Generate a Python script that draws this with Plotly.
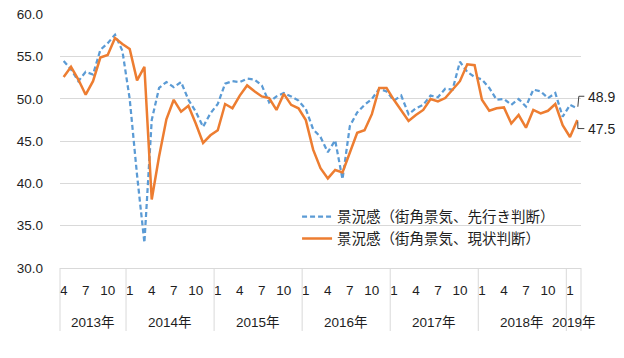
import plotly.graph_objects as go

# Categories: monthly, 2013-04 .. 2019-02
year_month = ([(2013, m) for m in range(4, 13)]
              + [(y, m) for y in range(2014, 2019) for m in range(1, 13)]
              + [(2019, 1), (2019, 2)])
years = [ym[0] for ym in year_month]
months = [ym[1] for ym in year_month]

# 景況感（街角景気、先行き判断）
outlook = [54.5, 53.5, 52.1, 53.2, 52.9, 55.8, 56.6, 57.6, 55.7,
           50.0, 41.0, 33.0, 47.5, 51.3, 52.0, 51.4, 52.0, 49.9, 48.5, 46.7, 48.3, 49.4, 51.8,
           52.1, 52.0, 52.4, 52.3, 51.6, 49.6, 50.3, 50.7, 50.3, 49.8, 48.8, 46.4, 45.5,
           43.7, 45.1, 40.5, 46.8, 48.4, 49.3, 50.0, 51.2, 50.9, 49.8, 50.4, 48.2,
           48.9, 49.3, 50.4, 50.2, 51.2, 51.1, 54.4, 53.2, 52.6, 52.3, 51.3, 49.9,
           50.0, 49.3, 50.0, 49.1, 51.1, 50.9, 50.1, 50.7, 47.9, 49.3, 48.9]
# 景況感（街角景気、現状判断）
current = [52.6, 53.8, 52.3, 50.5, 52.1, 54.9, 55.2, 57.2, 56.5,
           55.9, 52.2, 53.8, 38.1, 43.2, 47.6, 49.9, 48.5, 49.2, 47.1, 44.8, 45.7, 46.3, 49.4,
           48.9, 50.4, 51.6, 50.9, 50.3, 50.1, 48.7, 50.6, 49.3, 48.9, 47.5, 44.0, 41.8,
           40.6, 41.6, 41.3, 43.6, 46.0, 46.3, 48.2, 51.3, 51.3, 49.9, 48.7, 47.4,
           48.1, 48.7, 50.0, 49.7, 50.1, 51.1, 52.1, 54.1, 54.0, 49.9, 48.6, 48.9,
           49.0, 47.1, 48.1, 46.6, 48.7, 48.3, 48.6, 49.4, 46.9, 45.5, 47.5]

names = ["景況感（街角景気、先行き判断）", "景況感（街角景気、現状判断）"]
colors = ["#5B9BD5", "#ED7D31"]
label_months = [1, 4, 7, 10]
y_ticks = [30, 35, 40, 45, 50, 55, 60]

FONT = "Liberation Sans, Noto Sans CJK JP, sans-serif"
TXT = "#1e1e1e"
GRID = "#d9d9d9"

n = len(months)
xs = list(range(n))

fig = go.Figure()
fig.add_trace(go.Scatter(x=xs, y=outlook, mode="lines", name=names[0],
                         legendgroup="a",
                         line=dict(color=colors[0], width=2.25, dash="5px,3px")))
fig.add_trace(go.Scatter(x=xs, y=current, mode="lines", name=names[1],
                         legendgroup="b",
                         line=dict(color=colors[1], width=2.5)))

tickvals = [i for i, m in enumerate(months) if m in label_months]
ticktext = [str(months[i]) for i in tickvals]

shapes = []
annotations = []
# year groups
groups = []
for i, y in enumerate(years):
    if not groups or groups[-1][0] != y:
        groups.append([y, i, i])
    else:
        groups[-1][2] = i
boundaries = [g[1] - 0.5 for g in groups] + [groups[-1][2] + 0.5]
for b in boundaries:
    xp = (b + 0.5) / n
    shapes.append(dict(type="line", xref="paper", yref="paper", x0=xp, x1=xp,
                       y0=0, y1=-0.248, line=dict(color=GRID, width=1)))
for y, a, b in groups:
    annotations.append(dict(xref="x", yref="paper", x=(a + b) / 2, y=-0.213,
                            text=f"{y}年", showarrow=False, yanchor="middle",
                            font=dict(size=13.5, family=FONT, color=TXT)))

# end-value callouts
x_last = (n - 1 + 0.5) / n
for vals, dy, path in [(outlook, 11, "M 0.5,1.5 L 1.5,12 L 7,12"),
                       (current, -9, "M 0.5,-1.5 L 0.5,-8.5 L 7,-8.5")]:
    shapes.append(dict(type="path", xref="paper", yref="y", xsizemode="pixel",
                       ysizemode="pixel", xanchor=x_last, yanchor=vals[-1],
                       path=path, line=dict(color="#404040", width=1)))
    annotations.append(dict(xref="paper", yref="y", x=x_last, y=vals[-1],
                            text=f"{vals[-1]:.1f}", showarrow=False,
                            xanchor="left", yanchor="middle", xshift=9, yshift=dy,
                            font=dict(size=14, family=FONT, color=TXT)))

# page body adds an 8px offset; size/margins compensate so the plot lands in place
fig.update_layout(
    width=616, height=350,
    margin=dict(l=52, r=43, t=6, b=90, autoexpand=False),
    paper_bgcolor="white", plot_bgcolor="white",
    font=dict(family=FONT, size=13, color=TXT),
    showlegend=True,
    legend=dict(x=0.455, y=0.265, xanchor="left", yanchor="top",
                bgcolor="rgba(0,0,0,0)", font=dict(size=14.5, family=FONT, color=TXT),
                tracegroupgap=8, traceorder="normal"),
    xaxis=dict(range=[-0.5, n - 0.5], tickmode="array", tickvals=tickvals,
               ticktext=ticktext, showgrid=False, zeroline=False, showline=True,
               linecolor=GRID, linewidth=1, ticks="", ticklabelstandoff=10,
               automargin=False,
               tickfont=dict(size=13.5, family=FONT, color=TXT), fixedrange=True),
    yaxis=dict(range=[30, 60.05], tickmode="array", tickvals=y_ticks, tickformat=".1f",
               showgrid=True, gridcolor=GRID, gridwidth=1, zeroline=False,
               showline=False, ticks="", ticklabelstandoff=16,
               ticklabeloverflow="allow", automargin=False,
               tickfont=dict(size=13.5, family=FONT, color=TXT), fixedrange=True),
    shapes=shapes, annotations=annotations,
)

fig.write_html("out.html")
